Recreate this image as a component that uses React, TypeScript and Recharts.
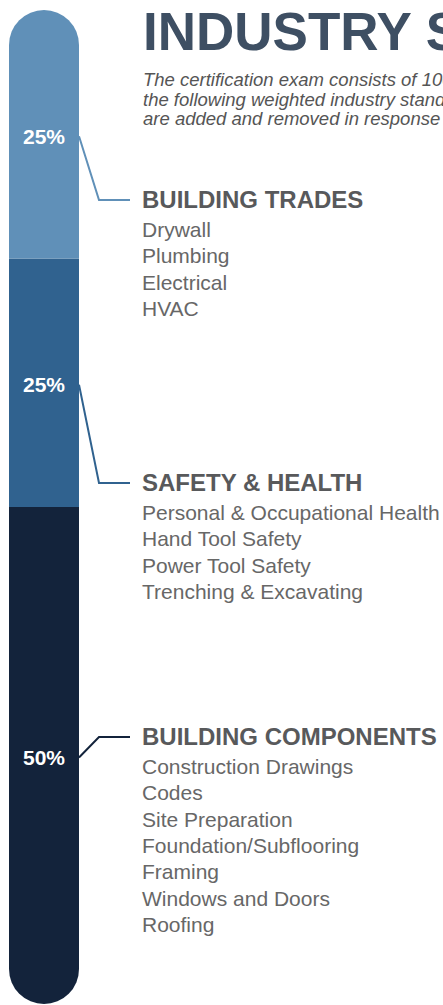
import React from "react";
import { BarChart, Bar, XAxis, YAxis, LabelList } from "recharts";

// exam weighting, bottom of the stack first
const categories = ["Exam"];
const sectionKeys = ["components", "safety", "trades"];
const sectionTitles = ["BUILDING COMPONENTS", "SAFETY & HEALTH", "BUILDING TRADES"];
const sectionWeights = [50, 25, 25];

const componentsTopics = [
  "Construction Drawings",
  "Codes",
  "Site Preparation",
  "Foundation/Subflooring",
  "Framing",
  "Windows and Doors",
  "Roofing",
];
const safetyTopics = [
  "Personal & Occupational Health",
  "Hand Tool Safety",
  "Power Tool Safety",
  "Trenching & Excavating",
];
const tradesTopics = ["Drywall", "Plumbing", "Electrical", "HVAC"];
const sectionTopics = [componentsTopics, safetyTopics, tradesTopics];

const introLines = [
  "The certification exam consists of 100 questions covering",
  "the following weighted industry standards. Standards",
  "are added and removed in response to industry needs.",
];

// look
const colors = ["#13233b", "#30628f", "#6090b8"];
const headingY = [737, 483, 200];
const FONT = "'Liberation Sans', Arial, Helvetica, sans-serif";
const TEXT_X = 142;

const data = categories.map((name) => {
  const row: Record<string, string | number> = { name };
  sectionKeys.forEach((k, i) => (row[k] = sectionWeights[i]));
  return row;
});

function sectionLabel(i: number) {
  return (props: any) => {
    const { x, y, width, height, value } = props;
    const cx = x + width / 2;
    const cy = y + height / 2 + 2;
    const right = x + width;
    const hy = headingY[i];
    return (
      <g>
        <text
          x={cx}
          y={cy}
          textAnchor="middle"
          dominantBaseline="central"
          fill="#ffffff"
          fontFamily={FONT}
          fontWeight={700}
          fontSize={21}
        >
          {value}%
        </text>
        <polyline
          points={`${right},${cy} ${right + 20},${hy} ${right + 51},${hy}`}
          fill="none"
          stroke={colors[i]}
          strokeWidth={2}
        />
        <text x={TEXT_X} y={hy + 8} fill="#58595b" fontFamily={FONT} fontWeight={700} fontSize={24}>
          {sectionTitles[i]}
        </text>
        {sectionTopics[i].map((t, j) => (
          <text key={t} x={TEXT_X} y={hy + 37 + j * 26.3} fill="#676767" fontFamily={FONT} fontSize={21}>
            {t}
          </text>
        ))}
      </g>
    );
  };
}

export default function App() {
  return (
    <div style={{ position: "absolute", left: 0, top: 0, width: 443, height: 1005, overflow: "hidden", background: "#fff" }}>
      <svg width={443} height={1005} style={{ position: "absolute", left: 0, top: 0 }}>
        <text x={143} y={50} fill="#3e4f63" fontFamily={FONT} fontWeight={700} fontSize={53}>
          INDUSTRY STANDARDS
        </text>
        {introLines.map((l, i) => (
          <text key={i} x={143} y={86 + i * 19.5} fill="#555555" fontFamily={FONT} fontStyle="italic" fontSize={18.5}>
            {l}
          </text>
        ))}
      </svg>
      <div style={{ position: "absolute", left: 0, top: 0 }}>
        <BarChart
          width={443}
          height={1005}
          data={data}
          margin={{ top: 10, right: 364, bottom: 1, left: 9 }}
          barCategoryGap={0}
          style={{ overflow: "visible" }}
        >
          <XAxis dataKey="name" hide />
          <YAxis hide domain={[0, 100]} />
          {sectionKeys.map((k, i) => (
            <Bar
              key={k}
              dataKey={k}
              stackId="exam"
              fill={colors[i]}
              isAnimationActive={false}
              radius={i === 0 ? [0, 0, 35, 35] : i === sectionKeys.length - 1 ? [35, 35, 0, 0] : 0}
            >
              <LabelList dataKey={k} content={sectionLabel(i)} />
            </Bar>
          ))}
        </BarChart>
      </div>
    </div>
  );
}
